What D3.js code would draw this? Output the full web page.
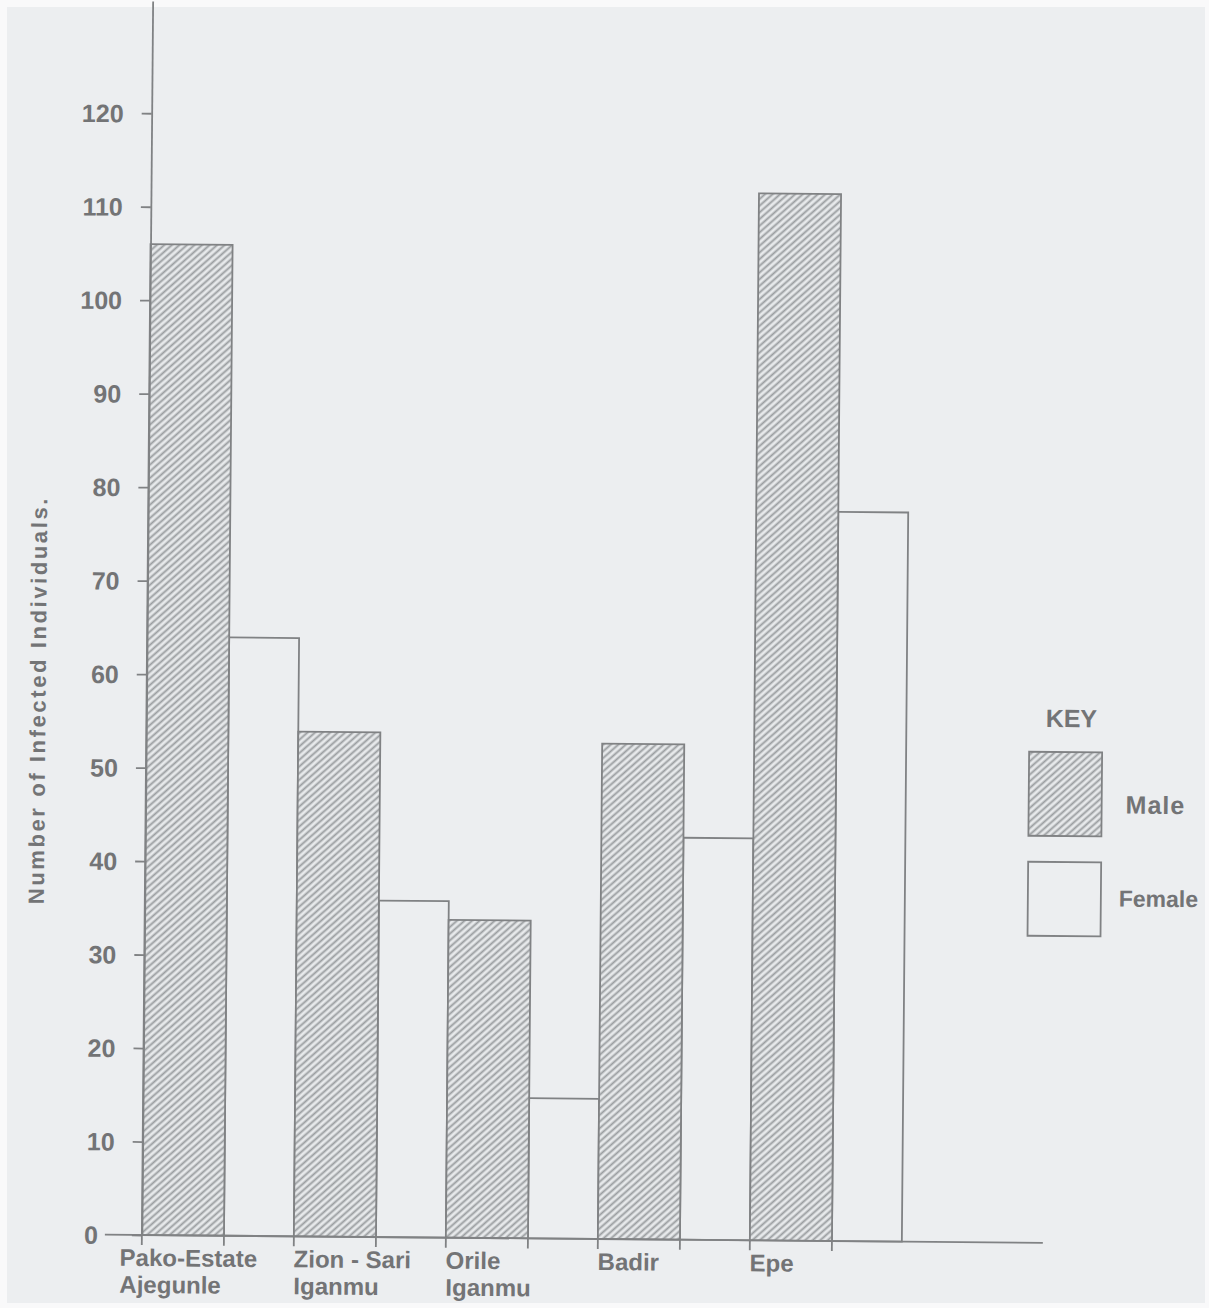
<!DOCTYPE html>
<html><head><meta charset="utf-8">
<script src="https://cdn.jsdelivr.net/npm/d3@7"></script>
<style>body{margin:0;background:#fff}svg{display:block}</style>
</head><body><svg id="c" width="1209" height="1308"></svg>
<script>
// ---- data ----
const categories = ["Pako-Estate Ajegunle", "Zion-Sari Iganmu", "Orile Iganmu", "Badir", "Epe"];
const labelLines = [["Pako-Estate", "Ajegunle"], ["Zion - Sari", "Iganmu"], ["Orile", "Iganmu"], ["Badir"], ["Epe"]];
const maleValues = [106, 54, 34, 53, 112];
const femaleValues = [64, 36, 15, 43, 78];
const yTicks = [0, 10, 20, 30, 40, 50, 60, 70, 80, 90, 100, 110, 120];
const seriesNames = ["Male", "Female"];
const yTitle = "Number of Infected Individuals.";
const keyTitle = "KEY";

// ---- style ----
const ink = "#808284", textInk = "#737476", paper = "#eceef0";
const font = "'Liberation Sans', Arial, sans-serif";

const svg = d3.select("#c");
svg.append("rect").attr("width", 1209).attr("height", 1308).attr("fill", "#f9f9fa");
svg.append("rect").attr("x", 7).attr("y", 7).attr("width", 1198).attr("height", 1296).attr("fill", paper);

const defs = svg.append("defs");
const pat = defs.append("pattern").attr("id", "hatch").attr("patternUnits", "userSpaceOnUse")
  .attr("width", 10).attr("height", 5).attr("patternTransform", "rotate(-42)");
pat.append("rect").attr("width", 10).attr("height", 5).attr("fill", "#e7e9eb");
pat.append("line").attr("x1", 0).attr("x2", 10).attr("y1", 2.5).attr("y2", 2.5)
  .attr("stroke", "#9a9da0").attr("stroke-width", 1.9);

const g = svg.append("g").attr("transform", "rotate(0.5,600,650)");

const x = d3.scaleBand().domain(categories).range([147, 907]).padding(0);
const y = d3.scaleLinear().domain([0, 132]).range([1239, 5]);
const maleW = x.bandwidth() * 0.54;

// bars
const grp = g.selectAll("g.grp").data(categories).join("g").attr("class", "grp");
grp.append("rect")
  .attr("x", d => x(d) + maleW)
  .attr("y", (d, i) => y(femaleValues[i]))
  .attr("width", x.bandwidth() - maleW)
  .attr("height", (d, i) => y(0) - y(femaleValues[i]))
  .attr("fill", paper).attr("stroke", ink).attr("stroke-width", 1.8);
grp.append("rect")
  .attr("x", d => x(d))
  .attr("y", (d, i) => y(maleValues[i]))
  .attr("width", maleW)
  .attr("height", (d, i) => y(0) - y(maleValues[i]))
  .attr("fill", "url(#hatch)").attr("stroke", ink).attr("stroke-width", 1.8);

// y axis
const yAxis = g.append("g").attr("transform", `translate(${x.range()[0]},0)`)
  .call(d3.axisLeft(y).tickValues(yTicks).tickSize(10).tickPadding(18).tickSizeOuter(0));
yAxis.select(".domain").attr("stroke", ink).attr("stroke-width", 1.8);
yAxis.selectAll(".tick line").attr("stroke", ink).attr("stroke-width", 1.8);
yAxis.selectAll(".tick text").attr("fill", textInk).attr("font-family", font)
  .attr("font-weight", "bold").attr("font-size", 25).attr("dy", "0.35em")
  .attr("dx", d => d === 0 ? -16 : 0);

// x axis line + edge ticks
g.append("line").attr("x1", 110).attr("x2", 1048).attr("y1", y(0)).attr("y2", y(0))
  .attr("stroke", ink).attr("stroke-width", 1.8);
grp.selectAll("line.et").data(d => [x(d), x(d) + maleW]).join("line").attr("class", "et")
  .attr("x1", v => v).attr("x2", v => v).attr("y1", y(0)).attr("y2", y(0) + 10)
  .attr("stroke", ink).attr("stroke-width", 1.8);

// category labels
grp.each(function (d, i) {
  const t = d3.select(this).append("text").attr("font-family", font).attr("font-weight", "bold")
    .attr("font-size", 24).attr("fill", textInk).attr("x", x(d)).attr("y", y(0) + 31);
  labelLines[i].forEach((ln, j) => {
    t.append("tspan").attr("x", x(d) - (i === 0 ? 22 : 0)).attr("dy", j === 0 ? 0 : 27).text(ln);
  });
});

// y title
g.append("text").attr("transform", "translate(46,705) rotate(-90)")
  .attr("text-anchor", "middle").attr("font-family", font).attr("font-weight", "bold")
  .attr("font-size", 22).attr("letter-spacing", 2.6).attr("fill", textInk).text(yTitle);

// key
const key = g.append("g");
key.append("text").attr("x", 1072).attr("y", 723).attr("text-anchor", "middle")
  .attr("font-family", font).attr("font-weight", "bold").attr("font-size", 25).attr("fill", textInk).text(keyTitle);
const keyRows = key.selectAll("g.k").data(seriesNames).join("g").attr("class", "k")
  .attr("transform", (d, i) => `translate(1030,${748 + i * 110})`);
keyRows.append("rect").attr("width", 73).attr("height", (d, i) => i === 0 ? 84 : 74)
  .attr("fill", (d, i) => i === 0 ? "url(#hatch)" : paper).attr("stroke", ink).attr("stroke-width", 1.8);
keyRows.append("text").attr("x", (d, i) => i === 0 ? 97 : 91).attr("y", (d, i) => i === 0 ? 61 : 44)
  .attr("font-family", font).attr("font-weight", "bold").attr("font-size", (d, i) => i === 0 ? 25 : 23)
  .attr("letter-spacing", (d, i) => i === 0 ? 1 : 0).attr("fill", textInk).text(d => d);
</script></body></html>
